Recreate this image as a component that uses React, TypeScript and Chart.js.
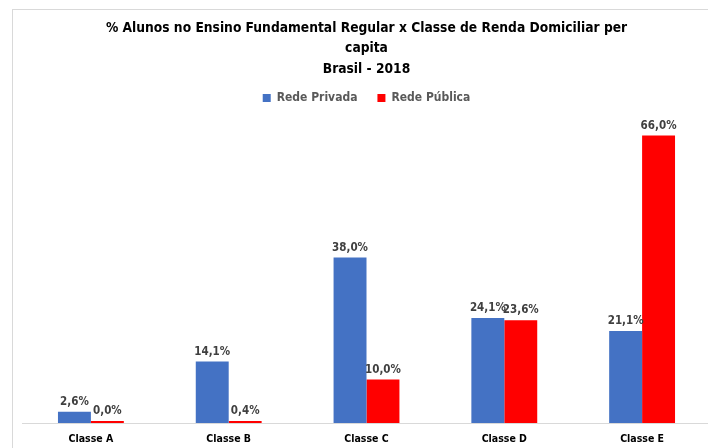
import React, { useEffect, useRef } from "react";
import { Chart, registerables } from "chart.js";

Chart.register(...registerables);

const categories = ["Classe A", "Classe B", "Classe C", "Classe D", "Classe E"];
const redePrivada = [2.6, 14.1, 38.0, 24.1, 21.1];
const redePublica = [0.0, 0.4, 10.0, 23.6, 66.0];
const seriesNames = ["Rede Privada", "Rede Pública"];
const titleLines = [
  "% Alunos no Ensino Fundamental Regular x Classe de Renda Domiciliar per",
  "capita",
  "Brasil - 2018",
];

const FONT = "'DejaVu Sans Condensed', 'Liberation Sans', Arial, sans-serif";

const fmt = (v: number) => v.toFixed(1).replace(".", ",") + "%";

const labelPlugin = {
  id: "barLabels",
  afterDatasetsDraw(chart: any) {
    const ctx = chart.ctx;
    ctx.save();
    ctx.font = `bold 11.5px ${FONT}`;
    ctx.fillStyle = "#404040";
    ctx.textAlign = "center";
    ctx.textBaseline = "bottom";
    chart.data.datasets.forEach((ds: any, di: number) => {
      const meta = chart.getDatasetMeta(di);
      meta.data.forEach((bar: any, i: number) => {
        const v = ds.data[i];
        const top = Math.min(bar.y, bar.base - 2);
        ctx.fillText(fmt(v), bar.x, top - 4);
      });
    });
    ctx.restore();
  },
};

export default function App() {
  const ref = useRef<HTMLCanvasElement | null>(null);
  useEffect(() => {
    if (!ref.current) return;
    const chart = new Chart(ref.current, {
      type: "bar",
      data: {
        labels: categories,
        datasets: [
          {
            label: seriesNames[0],
            data: redePrivada,
            backgroundColor: "#4472C4",
            categoryPercentage: 0.478,
            barPercentage: 1,
          },
          {
            label: seriesNames[1],
            data: redePublica,
            backgroundColor: "#FF0000",
            categoryPercentage: 0.478,
            barPercentage: 1,
            minBarLength: 2,
          },
        ],
      },
      options: {
        animation: false,
        responsive: false,
        maintainAspectRatio: false,
        layout: { padding: { left: 9, right: 14, top: 0, bottom: 2.4 } },
        plugins: {
          title: {
            display: true,
            text: titleLines,
            color: "#000000",
            font: { family: FONT, size: 13.7, weight: "bold", lineHeight: "20.5px" },
            padding: { top: 7.75, bottom: -7.25 },
          },
          legend: {
            display: true,
            position: "top",
            labels: {
              color: "#595959",
              font: { family: FONT, size: 12, weight: "bold" },
              boxWidth: 8,
              boxHeight: 8,
              padding: 20,
            },
          },
          tooltip: { enabled: false },
        },
        scales: {
          x: {
            grid: { display: false, drawTicks: false },
            border: { display: true, color: "#D9D9D9", width: 1 },
            ticks: {
              color: "#000000",
              font: { family: FONT, size: 10.5, weight: "bold" },
              padding: 10,
            },
          },
          xTop: {
            type: "category",
            position: "top",
            display: true,
            grid: { display: false, drawTicks: false },
            border: { display: false },
            ticks: { display: false },
            afterFit: (scale: any) => {
              scale.height = 4;
            },
          },
          y: {
            display: false,
            min: 0,
            max: 70,
          },
        },
      },
      plugins: [labelPlugin],
    });
    return () => chart.destroy();
  }, []);

  return (
    <div
      style={{
        position: "absolute",
        left: 0,
        top: 0,
        width: 708,
        height: 448,
        overflow: "hidden",
        background: "#fff",
      }}
    >
      <div
        style={{
          position: "absolute",
          left: 12,
          top: 9,
          width: 712,
          height: 448,
          border: "1px solid #D9D9D9",
        }}
      >
        <canvas ref={ref} width={712} height={448} style={{ display: "block" }} />
      </div>
    </div>
  );
}
